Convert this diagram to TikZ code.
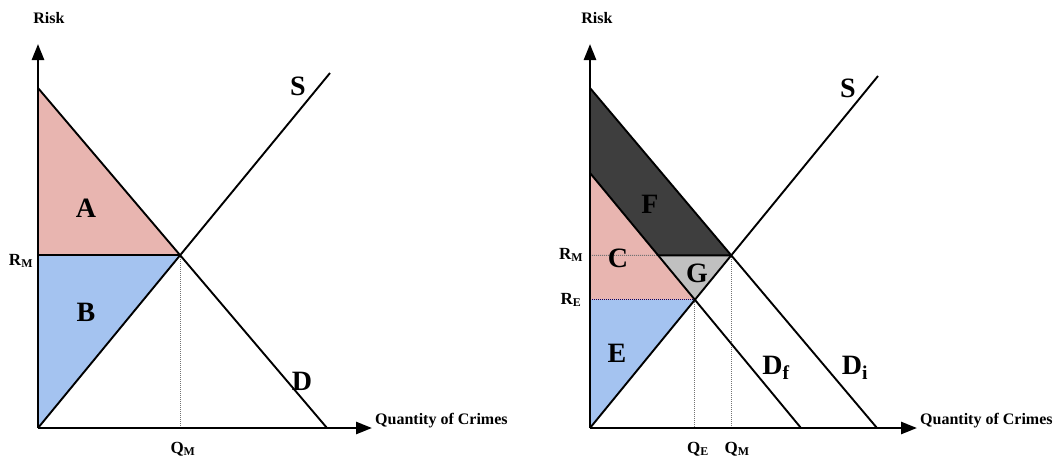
\documentclass[tikz,border=0pt]{standalone}
\usepackage{fontspec}
\setmainfont{Liberation Serif}
\usetikzlibrary{arrows.meta,positioning,calc}
\definecolor{crimepink}{RGB}{232,181,176}
\definecolor{crimeblue}{RGB}{164,195,240}
\definecolor{crimedark}{RGB}{62,62,62}
\definecolor{crimegray}{RGB}{192,192,192}
\tikzset{
  axisline/.style={line width=2.6pt, -{Triangle[length=16pt,width=12pt]}},
  curve/.style={line width=1.9pt},
  guide/.style={densely dotted, line width=1pt, draw=black!55},
  area/.style={font=\fontsize{28}{28}\selectfont\bfseries, inner sep=0pt},
  level/.style={font=\fontsize{17}{17}\selectfont\bfseries, inner sep=0pt},
  axislabel/.style={font=\fontsize{16}{16}\selectfont\bfseries, inner sep=0pt}
}

\begin{document}
\begin{tikzpicture}[x=1pt, y=-1pt]
  \useasboundingbox (0,0) rectangle (1057,464);

  % left panel: one demand curve
  \coordinate (O1) at (38,428);
  \coordinate (ytip1) at (38,44);
  \coordinate (xtip1) at (372,428);
  \coordinate (dtop) at (38,88);
  \coordinate (dend) at (327,428);
  \coordinate (send1) at (330,73);
  \coordinate (m1) at (intersection of dtop--dend and O1--send1);
  \coordinate (rm1) at (O1 |- m1);
  \coordinate (qm1) at (m1 |- O1);

  \fill[crimepink] (dtop) -- (m1) -- (rm1) -- cycle;
  \fill[crimeblue] (rm1) -- (m1) -- (O1) -- cycle;
  \draw[guide] (m1) -- (qm1);
  \draw[curve] (rm1) -- (m1);
  \draw[curve] (dtop) -- (dend);
  \draw[curve] (O1) -- (send1);
  \draw[axisline] (O1) -- (ytip1);
  \draw[axisline] (O1) -- (xtip1);

  \node[axislabel] (risk1) at (49,18) {Risk};
  \node[axislabel, anchor=west] (qty1) at (375,421) {Quantity of Crimes};
  \node[level] (rmlab1) at (21,261) {R\textsubscript{M}};
  \node[level] (qmlab1) at (183,449) {Q\textsubscript{M}};
  \node[area] (a) at (86,208) {A};
  \node[area] (b) at (86,312) {B};
  \node[area] (slab1) at (298,86) {S};
  \node[area] (dlab) at (302,381) {D};

  % right panel: initial and final demand
  \coordinate (O2) at (590,428);
  \coordinate (ytip2) at (590,44);
  \coordinate (xtip2) at (917,428);
  \coordinate (ditop) at (590,88);
  \coordinate (diend) at (877,428);
  \coordinate (dftop) at (590,173);
  \coordinate (dfend) at (801,428);
  \coordinate (send2) at (878,76);
  \coordinate (m2) at (intersection of ditop--diend and O2--send2);
  \coordinate (e2) at (intersection of dftop--dfend and O2--send2);
  \coordinate (rm2) at (O2 |- m2);
  \coordinate (re2) at (O2 |- e2);
  \coordinate (k2) at (intersection of dftop--dfend and rm2--m2);

  \fill[crimedark] (ditop) -- (m2) -- (k2) -- (dftop) -- cycle;
  \fill[crimegray] (k2) -- (m2) -- (e2) -- cycle;
  \fill[crimepink] (dftop) -- (e2) -- (re2) -- cycle;
  \fill[crimeblue] (re2) -- (e2) -- (O2) -- cycle;
  \draw[guide] (rm2) -- (k2);
  \draw[guide, draw=blue!40!black] (re2) -- (e2);
  \draw[guide] (e2) -- (e2 |- O2);
  \draw[guide] (m2) -- (m2 |- O2);
  \draw[curve] (k2) -- (m2);
  \draw[curve] (ditop) -- (diend);
  \draw[curve] (dftop) -- (dfend);
  \draw[curve] (O2) -- (send2);
  \draw[axisline] (O2) -- (ytip2);
  \draw[axisline] (O2) -- (xtip2);

  \node[axislabel] (risk2) at (597,18) {Risk};
  \node[axislabel, anchor=west] (qty2) at (920,421) {Quantity of Crimes};
  \node[level] (rmlab2) at (571,255) {R\textsubscript{M}};
  \node[level] (relab2) at (571,300) {R\textsubscript{E}};
  \node[level] (qelab2) at (698,449) {Q\textsubscript{E}};
  \node[level] (qmlab2) at (737,449) {Q\textsubscript{M}};
  \node[area] (f) at (650,204) {F};
  \node[area] (c) at (618,258) {C};
  \node[area] (g) at (697,273) {G};
  \node[area] (e) at (617,353) {E};
  \node[area] (slab2) at (848,88) {S};
  \node[area] (dflab) at (776,368) {D\textsubscript{f}};
  \node[area] (dilab) at (855,368) {D\textsubscript{i}};
\end{tikzpicture}
\end{document}
